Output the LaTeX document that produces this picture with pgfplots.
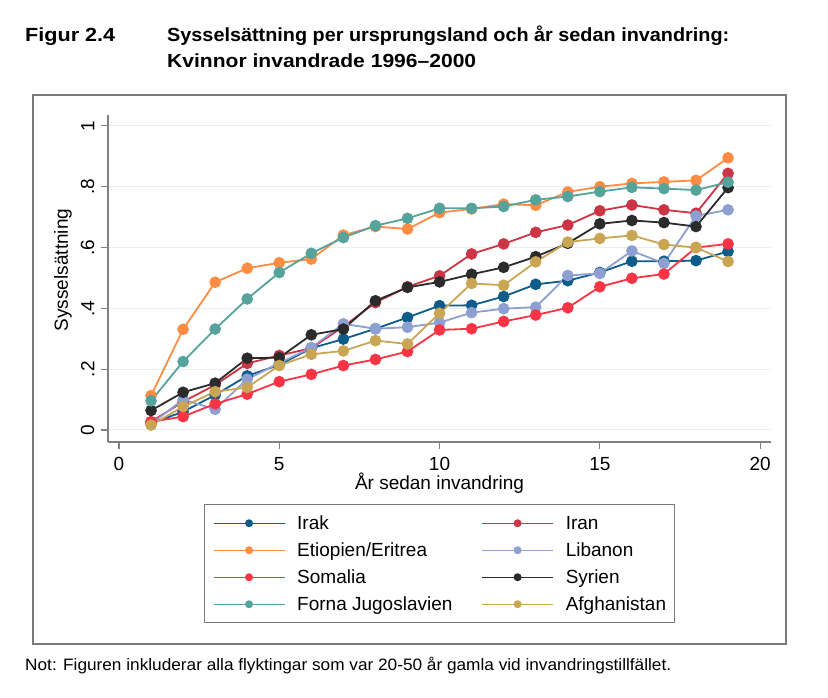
\documentclass[border=0pt]{standalone}
\usepackage{fontspec}
\setmainfont{Liberation Sans}
\usepackage{graphicx}
\usepackage{pgfplots}
\pgfplotsset{compat=1.18}
\definecolor{cIrak}{HTML}{0E5C8A}
\definecolor{cIran}{HTML}{CB3545}
\definecolor{cEti}{HTML}{FF8C42}
\definecolor{cLib}{HTML}{8E9FD1}
\definecolor{cSom}{HTML}{FB3445}
\definecolor{cSyr}{HTML}{2B2B2B}
\definecolor{cJug}{HTML}{55A39B}
\definecolor{cAfg}{HTML}{C8A653}
\definecolor{frameGray}{HTML}{7A7A7A}
\definecolor{axisGray}{HTML}{808080}
\definecolor{gridC}{HTML}{E6F0F2}
\newcommand{\chartfont}{\fontsize{19bp}{22bp}\selectfont}
\pgfplotsset{
  cplot/.style={color=#1, line width=1.8bp, mark=*, mark size=4.9bp,
    mark options={solid, fill=#1, draw=none}},
}
\begin{document}
\begin{tikzpicture}[x=1bp,y=1bp]
\useasboundingbox (0,0) rectangle (828,698);
\fill[white] (0,0) rectangle (828,698);
\draw[color=frameGray, line width=1.6bp] (32.7,603) rectangle (786,54);
\node[anchor=base west, inner sep=0pt] at (25,656) {\resizebox{90bp}{\height}{\fontsize{19bp}{22bp}\selectfont\bfseries Figur 2.4}};
\node[anchor=base west, inner sep=0pt] at (167,656) {\resizebox{562bp}{\height}{\fontsize{19bp}{22bp}\selectfont\bfseries Sysselsättning per ursprungsland och år sedan invandring:}};
\node[anchor=base west, inner sep=0pt] at (167,630) {\resizebox{309bp}{\height}{\fontsize{19bp}{22bp}\selectfont\bfseries Kvinnor invandrade 1996–2000}};
\node[anchor=base west, inner sep=0pt] at (25,27) {\resizebox{646bp}{\height}{\fontsize{16.5bp}{20bp}\selectfont Not: Figuren inkluderar alla flyktingar som var 20-50 år gamla vid invandringstillfället.}};
\begin{axis}[
  at={(108bp,256bp)}, anchor=south west,
  width=663bp, height=327bp, scale only axis,
  xmin=-0.343, xmax=20.34, ymin=-0.0395, ymax=1.036,
  axis x line*=bottom, axis y line*=left,
  axis line style={draw=axisGray, line width=1.1bp, -},
  xtick={0,5,10,15,20}, xticklabels={0,5,10,15,20},
  ytick={0,0.2,0.4,0.6,0.8,1}, yticklabels={0,.2,.4,.6,.8,1},
  tick align=outside, major tick length=7bp,
  tick style={draw=axisGray, line width=1.1bp},
  ymajorgrids, grid style={draw=gridC, line width=1bp},
  ticklabel style={font=\chartfont},
  xticklabel style={anchor=north, inner sep=0pt, yshift=-8.5bp},
  yticklabel style={rotate=90, anchor=south, inner sep=0pt, yshift=6.5bp},
  xlabel={År sedan invandring},
  xlabel style={at={(axis description cs:0.5,-0.1254)}, anchor=center, font=\chartfont},
  ylabel={Sysselsättning},
  ylabel style={at={(axis description cs:-0.0679,0.526)}, anchor=center, font=\chartfont},
  legend columns=2,
  legend cell align=left,
  legend style={
    at={(axis description cs:0.5,-0.1905)}, anchor=north,
    draw=frameGray, line width=0.9bp, fill=white,
    inner xsep=8bp, inner ysep=5bp,
    font=\chartfont,
    nodes={inner xsep=0bp, inner ysep=4.5bp, text height=15bp, text depth=3bp},
    /tikz/every odd column/.append style={column sep=12bp},
    /tikz/every even column/.append style={column sep=29bp},
  },
  legend image code/.code={
    \draw[line width=1.3bp, mark size=3.3bp, mark repeat=2, mark phase=2]
      plot coordinates {(0bp,0bp) (35.5bp,0bp) (71bp,0bp)};
  },
]
\addplot[cplot=cIrak] coordinates {(1,.022) (2,.060) (3,.115) (4,.178) (5,.214) (6,.269) (7,.299) (8,.333) (9,.370) (10,.409) (11,.410) (12,.439) (13,.479) (14,.491) (15,.518) (16,.555) (17,.555) (18,.557) (19,.587)};
\addplot[cplot=cIran] coordinates {(1,.027) (2,.093) (3,.148) (4,.219) (5,.245) (6,.269) (7,.340) (8,.419) (9,.471) (10,.507) (11,.579) (12,.612) (13,.650) (14,.674) (15,.721) (16,.740) (17,.724) (18,.713) (19,.844)};
\addplot[cplot=cEti] coordinates {(1,.113) (2,.331) (3,.486) (4,.532) (5,.550) (6,.562) (7,.641) (8,.669) (9,.661) (10,.715) (11,.727) (12,.743) (13,.739) (14,.783) (15,.800) (16,.811) (17,.816) (18,.821) (19,.895)};
\addplot[cplot=cLib] coordinates {(1,.020) (2,.100) (3,.068) (4,.167) (5,.220) (6,.271) (7,.349) (8,.333) (9,.338) (10,.353) (11,.386) (12,.399) (13,.404) (14,.508) (15,.515) (16,.589) (17,.548) (18,.704) (19,.724)};
\addplot[cplot=cSom] coordinates {(1,.027) (2,.044) (3,.086) (4,.118) (5,.159) (6,.183) (7,.212) (8,.232) (9,.258) (10,.329) (11,.333) (12,.357) (13,.378) (14,.402) (15,.471) (16,.499) (17,.513) (18,.600) (19,.612)};
\addplot[cplot=cSyr] coordinates {(1,.064) (2,.124) (3,.154) (4,.236) (5,.238) (6,.313) (7,.332) (8,.425) (9,.469) (10,.487) (11,.512) (12,.535) (13,.570) (14,.614) (15,.678) (16,.689) (17,.682) (18,.669) (19,.797)};
\addplot[cplot=cJug] coordinates {(1,.096) (2,.225) (3,.332) (4,.431) (5,.518) (6,.581) (7,.633) (8,.672) (9,.696) (10,.729) (11,.729) (12,.735) (13,.757) (14,.768) (15,.784) (16,.798) (17,.794) (18,.789) (19,.815)};
\addplot[cplot=cAfg] coordinates {(1,.016) (2,.077) (3,.126) (4,.140) (5,.212) (6,.249) (7,.260) (8,.294) (9,.283) (10,.384) (11,.482) (12,.476) (13,.553) (14,.618) (15,.630) (16,.640) (17,.610) (18,.600) (19,.554)};
\legend{Irak,Iran,Etiopien/Eritrea,Libanon,Somalia,Syrien,Forna Jugoslavien,Afghanistan}
\end{axis}
\end{tikzpicture}
\end{document}
